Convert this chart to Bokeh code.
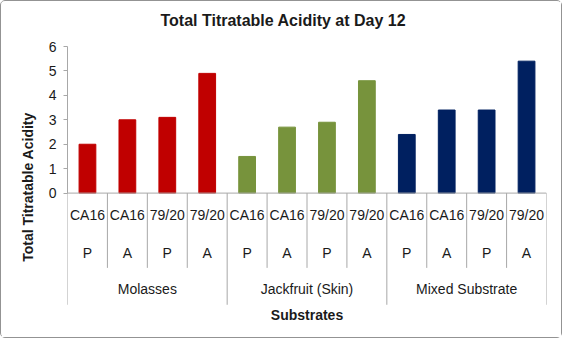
from bokeh.plotting import figure
from bokeh.models import FactorRange, Range1d, FixedTicker, Title
from bokeh.embed import file_html
from bokeh.resources import INLINE
from bokeh.core.properties import value

# ---- data ----
substrates = ["Molasses", "Jackfruit (Skin)", "Mixed Substrate"]
strains = ["CA16", "CA16", "79/20", "79/20"]
modes = ["P", "A", "P", "A"]
molasses = [2.0, 3.0, 3.1, 4.9]
jackfruit = [1.5, 2.7, 2.9, 4.6]
mixed = [2.4, 3.4, 3.4, 5.4]
colors = ["#C00000", "#77933C", "#002060"]
y_ticks = [0, 1, 2, 3, 4, 5, 6]
title_text = "Total Titratable Acidity at Day 12"
y_label = "Total Titratable Acidity"
x_label = "Substrates"

series = [molasses, jackfruit, mixed]
factors = [(s, f"{st} {m}") for s in substrates for st, m in zip(strains, modes)]
tops = [v for ser in series for v in ser]
bar_colors = [c for c in colors for _ in strains]
strain_labels = [st for _ in substrates for st in strains]
mode_labels = [m for _ in substrates for m in modes]

FONT = value("Liberation Sans")
TXT = "#1a1a1a"
GRAY = "#A8A8A8"

W, H = 562, 338
p = figure(
    x_range=FactorRange(*factors, factor_padding=0, group_padding=0, range_padding=0),
    y_range=Range1d(-5.50, 6),
    width=W, height=H,
    x_axis_location=None,
    toolbar_location=None, output_backend="svg",
    min_border_left=66, min_border_right=17, min_border_top=45, min_border_bottom=12,
)
p.styles = {"border": "1px solid #939393", "border-radius": "5px"}
p.outline_line_color = None
p.grid.grid_line_color = None
p.background_fill_color = "white"
p.border_fill_color = "white"

# bars
p.vbar(x=factors, top=tops, width=0.42, fill_color=bar_colors, line_color=bar_colors)

# category axis line and separators
p.segment(x0=[factors[0] + (-0.5,)], y0=[0], x1=[factors[-1] + (0.5,)], y1=[0],
          line_color=GRAY, line_width=1)
sep_x, sep_y = [], []
for i, f in enumerate(factors):
    sep_x.append(f + (-0.5,))
    sep_y.append(-4.57 if i % len(strains) == 0 else -3.06)
sep_x.append(factors[-1] + (0.5,))
sep_y.append(-4.57)
p.segment(x0=sep_x, y0=[0] * len(sep_x), x1=sep_x, y1=sep_y, line_color=GRAY, line_width=1)

# category labels
p.text(x=factors, y=-0.914, text=strain_labels, text_align="center", text_baseline="middle",
       text_font=FONT, text_font_size="14px", text_color=TXT)
p.text(x=factors, y=-2.45, text=mode_labels, text_align="center", text_baseline="middle",
       text_font=FONT, text_font_size="14px", text_color=TXT)
p.text(x=substrates, y=-3.93, text=substrates, text_align="center", text_baseline="middle",
       text_font=FONT, text_font_size="14px", text_color=TXT)
p.text(x=[substrates[1]], y=-5.0, text=[x_label], text_align="center", text_baseline="middle",
       text_font=FONT, text_font_size="14px", text_font_style="bold", text_color=TXT)

# y axis
ya = p.yaxis[0]
ya.ticker = FixedTicker(ticks=y_ticks)
ya.bounds = (0, 6)
ya.axis_line_color = GRAY
ya.major_tick_line_color = GRAY
ya.major_tick_out = 4
ya.major_tick_in = 0
ya.minor_tick_line_color = None
ya.major_label_standoff = 7
ya.major_label_text_font = "Liberation Sans"
ya.major_label_text_font_size = "14px"
ya.major_label_text_color = TXT
ya.axis_label = y_label
ya.axis_label_text_font = "Liberation Sans"
ya.axis_label_text_font_size = "14px"
ya.axis_label_text_font_style = "bold"
ya.axis_label_text_color = TXT
ya.axis_label_standoff = 10

# title, with a small blank spacer title between it and the frame
p.title.text = title_text
p.title.align = "left"
p.title.offset = 93
p.title.vertical_align = "top"
p.title.text_font = "Liberation Sans"
p.title.text_font_size = "16px"
p.title.text_font_style = "bold"
p.title.text_color = TXT
p.title.standoff = 18
spacer = Title(text=".", text_font_size="4px", text_color="white", standoff=2)
p.add_layout(spacer, "above")

open("out.html", "w").write(file_html(p, INLINE))
